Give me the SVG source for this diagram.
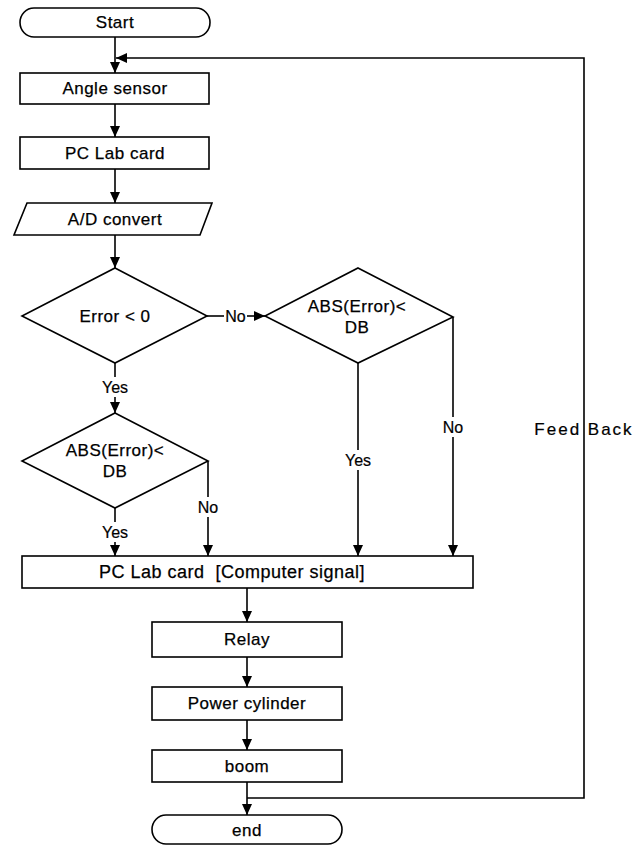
<svg xmlns="http://www.w3.org/2000/svg" width="642" height="845" viewBox="0 0 642 845">
<defs>
<marker id="arr" markerUnits="userSpaceOnUse" markerWidth="12" markerHeight="12" viewBox="0 0 12 12" refX="11" refY="6" orient="auto">
<path d="M0,1 L11,6 L0,11 z" fill="#000"/>
</marker>
<style>
.shape{fill:#fff;stroke:#000;stroke-width:1.6}
.t{font-family:"Liberation Sans",Arial,sans-serif;font-size:17px;fill:#000;stroke:#000;stroke-width:0.25;text-anchor:middle;dominant-baseline:central;letter-spacing:0.5px}
.lbl{font-family:"Liberation Sans",Arial,sans-serif;font-size:16px;fill:#000;stroke:#000;stroke-width:0.2;text-anchor:middle;dominant-baseline:central}
.c{fill:none;stroke:#000;stroke-width:1.6}
.ca{fill:none;stroke:#000;stroke-width:1.6;marker-end:url(#arr)}
</style>
</defs>
<rect width="642" height="845" fill="#fff"/>
<g id="connectors">
<path class="ca" d="M115,37 V73"/>
<path class="ca" d="M247,798 H584 V413 M584,446 V58 H116"/>
<path class="ca" d="M115,104 V137"/>
<path class="ca" d="M115,169 V203"/>
<path class="ca" d="M115,235 V268"/>
<path class="c" d="M207,316 H224"/>
<path class="ca" d="M247,316 H265"/>
<path class="c" d="M115,363 V377"/>
<path class="ca" d="M115,397 V413"/>
<path class="c" d="M115,508 V522"/>
<path class="ca" d="M115,542 V556"/>
<path class="c" d="M208,461 V497"/>
<path class="ca" d="M208,517 V556"/>
<path class="c" d="M358,363 V450"/>
<path class="ca" d="M358,470 V556"/>
<path class="c" d="M453,317 V417"/>
<path class="ca" d="M453,437 V556"/>
<path class="ca" d="M247,588 V622"/>
<path class="ca" d="M247,657 V687"/>
<path class="ca" d="M247,720 V750"/>
<path class="ca" d="M247,782 V815"/>
<text class="lbl" x="235.5" y="316">No</text>
<text class="lbl" x="115" y="387">Yes</text>
<text class="lbl" x="115" y="532">Yes</text>
<text class="lbl" x="208" y="507">No</text>
<text class="lbl" x="358" y="460">Yes</text>
<text class="lbl" x="453" y="427">No</text>
<text class="lbl" x="584" y="429" style="font-size:17px;letter-spacing:2px">Feed Back</text>
</g>
<g id="start">
<rect class="shape" x="20" y="8" width="190" height="29" rx="14" ry="14.5"/>
<text class="t" x="115" y="22.5">Start</text>
</g>
<g id="angle-sensor">
<rect class="shape" x="20" y="73" width="189" height="31"/>
<text class="t" x="115" y="88.5">Angle sensor</text>
</g>
<g id="pc-lab-card-1">
<rect class="shape" x="20" y="137" width="189" height="32"/>
<text class="t" x="115" y="153">PC Lab card</text>
</g>
<g id="ad-convert">
<polygon class="shape" points="27,203 212,203 200,235 14,235"/>
<text class="t" x="115" y="219">A/D convert</text>
</g>
<g id="error-lt-0">
<polygon class="shape" points="115,268 207,316 115,363 22,316"/>
<text class="t" x="115" y="316">Error &lt; 0</text>
</g>
<g id="abs-error-right">
<polygon class="shape" points="358,268 453,317 358,363 265,316"/>
<text class="t" x="357" y="306">ABS(Error)&lt;</text>
<text class="t" x="357" y="327">DB</text>
</g>
<g id="abs-error-left">
<polygon class="shape" points="115,413 208,461 115,508 22,461"/>
<text class="t" x="115" y="450">ABS(Error)&lt;</text>
<text class="t" x="115" y="471">DB</text>
</g>
<g id="pc-lab-card-2">
<rect class="shape" x="22" y="556" width="451" height="32"/>
<text class="t" x="232" y="572" style="font-size:18px" xml:space="preserve">PC Lab card  [Computer signal]</text>
</g>
<g id="relay">
<rect class="shape" x="152" y="622" width="190" height="35"/>
<text class="t" x="247" y="639.5">Relay</text>
</g>
<g id="power-cylinder">
<rect class="shape" x="152" y="687" width="190" height="33"/>
<text class="t" x="247" y="703.5">Power cylinder</text>
</g>
<g id="boom">
<rect class="shape" x="152" y="750" width="190" height="32"/>
<text class="t" x="247" y="766">boom</text>
</g>
<g id="end">
<rect class="shape" x="152" y="815" width="190" height="29" rx="14" ry="14.5"/>
<text class="t" x="247" y="830">end</text>
</g>
</svg>
